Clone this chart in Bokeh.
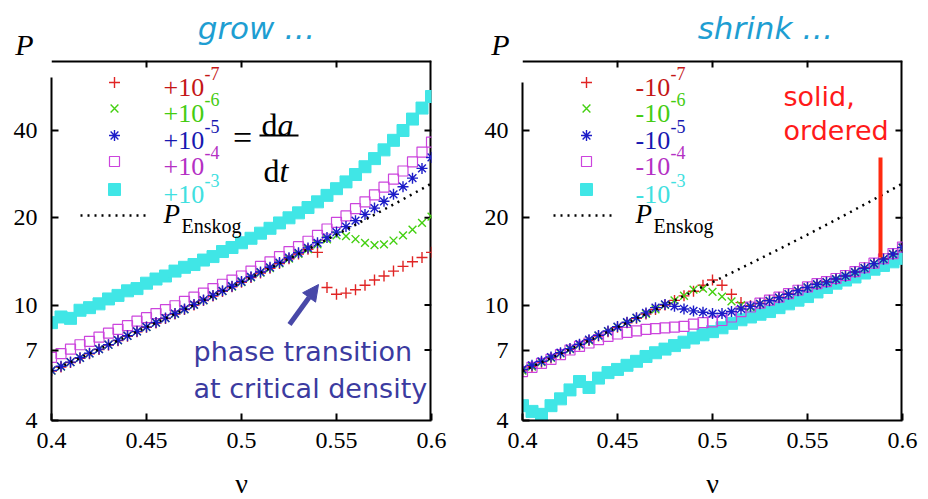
from bokeh.plotting import figure
from bokeh.models import (Range1d, FixedTicker, Label, Arrow,
                          NormalHead, CustomJSTickFormatter)
from bokeh.layouts import row, column
from bokeh.embed import file_html
from bokeh.resources import INLINE

# ---------------- data ----------------
NU = [0.400, 0.405, 0.410, 0.415, 0.420, 0.425, 0.430, 0.435, 0.440, 0.445,
      0.450, 0.455, 0.460, 0.465, 0.470, 0.475, 0.480, 0.485, 0.490, 0.495,
      0.500, 0.505, 0.510, 0.515, 0.520, 0.525, 0.530, 0.535, 0.540, 0.545,
      0.550, 0.555, 0.560, 0.565, 0.570, 0.575, 0.580, 0.585, 0.590, 0.595, 0.600]

P_ENSKOG = [5.93, 6.13, 6.35, 6.57, 6.80, 7.04, 7.29, 7.55, 7.82, 8.10,
            8.39, 8.69, 9.00, 9.32, 9.66, 10.01, 10.38, 10.76, 11.16, 11.57,
            12.00, 12.45, 12.92, 13.41, 13.92, 14.45, 15.01, 15.59, 16.20, 16.84,
            17.50, 18.20, 18.93, 19.70, 20.50, 21.35, 22.23, 23.16, 24.14, 25.17, 26.25]

# grow: da/dt = +1e-7 ... +1e-3
GROW_E7 = [5.92, 6.12, 6.34, 6.56, 6.79, 7.03, 7.28, 7.54, 7.81, 8.09,
           8.38, 8.68, 8.99, 9.31, 9.65, 10.00, 10.37, 10.75, 11.15, 11.56,
           11.99, 12.44, 12.91, 13.40, 13.91, 14.44, 15.00, 15.58, 15.2, 11.5,
           10.9, 11.0, 11.3, 11.7, 12.2, 12.6, 13.1, 13.6, 14.1, 14.6, 15.2]
GROW_E6 = [5.94, 6.14, 6.36, 6.58, 6.81, 7.05, 7.30, 7.56, 7.83, 8.11,
           8.40, 8.70, 9.01, 9.33, 9.67, 10.02, 10.39, 10.77, 11.17, 11.58,
           12.01, 12.46, 12.93, 13.42, 13.93, 14.46, 15.02, 15.60, 16.21, 16.85,
           17.4, 17.3, 16.9, 16.4, 16.1, 16.2, 16.7, 17.4, 18.2, 19.2, 20.2]
GROW_E5 = [5.95, 6.15, 6.36, 6.58, 6.82, 7.05, 7.30, 7.57, 7.84, 8.12,
           8.41, 8.71, 9.02, 9.35, 9.69, 10.04, 10.41, 10.80, 11.20, 11.62,
           12.06, 12.52, 13.00, 13.50, 14.02, 14.57, 15.15, 15.75, 16.40, 17.10,
           17.85, 18.65, 19.55, 20.55, 21.6, 22.8, 24.1, 25.6, 27.4, 29.6, 32.3]
GROW_E4 = [6.6, 6.8, 7.05, 7.3, 7.5, 7.75, 8.0, 8.25, 8.5, 8.8,
           9.05, 9.35, 9.65, 9.95, 10.3, 10.65, 11.0, 11.4, 11.8, 12.2,
           12.6, 13.1, 13.6, 14.1, 14.7, 15.3, 15.9, 16.6, 17.4, 18.3,
           19.3, 20.3, 21.5, 22.7, 24.0, 25.5, 27.2, 29.0, 31.2, 33.7, 36.5]
GROW_E3 = [8.7, 9.1, 9.0, 9.6, 9.8, 10.1, 10.5, 10.8, 11.2, 11.4,
           11.9, 12.3, 12.6, 13.1, 13.5, 13.8, 14.3, 14.7, 15.3, 15.8,
           16.4, 17.0, 17.7, 18.4, 19.2, 20.0, 20.8, 21.7, 22.7, 23.9,
           25.2, 26.6, 28.2, 30.0, 32.0, 34.3, 37.0, 40.0, 43.8, 47.8, 52.4]

# shrink: da/dt = -1e-7 ... -1e-3
SHRINK_E7 = [5.93, 6.13, 6.35, 6.57, 6.80, 7.04, 7.29, 7.55, 7.82, 8.10,
             8.39, 8.69, 9.00, 9.32, 9.66, 10.01, 10.38, 10.76, 11.16, 11.7,
             12.2, 11.7, 10.9, 10.2, 9.95, 10.15, 10.4, 10.65, 10.95, 11.25,
             11.5, 11.8, 12.05, 12.3, 12.6, 13.0, 13.45, 13.9, 14.45, 15.0, 15.8]
SHRINK_E6 = [5.94, 6.14, 6.36, 6.58, 6.81, 7.05, 7.30, 7.56, 7.83, 8.11,
             8.40, 8.70, 9.01, 9.33, 9.67, 10.02, 10.39, 10.77, 11.3, 11.4,
             11.1, 10.7, 10.3, 10.0, 9.85, 10.1, 10.35, 10.6, 10.9, 11.2,
             11.5, 11.75, 12.0, 12.3, 12.6, 13.0, 13.4, 13.9, 14.4, 15.0, 15.75]
SHRINK_E5 = [6.0, 6.2, 6.4, 6.62, 6.85, 7.08, 7.33, 7.6, 7.86, 8.14,
             8.43, 8.73, 9.05, 9.4, 9.8, 10.05, 9.9, 9.7, 9.55, 9.45,
             9.35, 9.35, 9.5, 9.7, 9.9, 10.1, 10.35, 10.6, 10.9, 11.2,
             11.5, 11.8, 12.0, 12.3, 12.6, 13.0, 13.4, 13.9, 14.4, 15.0, 15.8]
SHRINK_E4 = [5.9, 6.1, 6.3, 6.5, 6.75, 7.0, 7.2, 7.4, 7.6, 7.8,
             7.95, 8.05, 8.15, 8.25, 8.3, 8.35, 8.4, 8.45, 8.6, 8.7,
             8.75, 8.85, 9.1, 9.5, 9.85, 10.15, 10.4, 10.65, 10.95, 11.25,
             11.55, 11.85, 12.05, 12.35, 12.65, 13.05, 13.45, 13.95, 14.45, 15.05, 15.85]
SHRINK_E3 = [4.5, 4.3, 4.2, 4.5, 4.75, 5.1, 5.45, 5.2, 5.6, 5.85,
             6.0, 6.2, 6.4, 6.65, 6.85, 7.05, 7.25, 7.45, 7.7, 7.9,
             8.1, 8.35, 8.65, 8.9, 9.1, 9.3, 9.5, 9.8, 10.1, 10.4,
             10.7, 11.1, 11.5, 11.9, 12.2, 12.5, 12.9, 13.3, 13.7, 14.1, 14.5]

X_TICKS = [0.4, 0.45, 0.5, 0.55, 0.6]
Y_TICKS = [4, 7, 10, 20, 40]
EXPONENTS = ["-7", "-6", "-5", "-4", "-3"]

# ---------------- styles ----------------
MARK_COLORS = ["#E02424", "#44D011", "#1C1CC8", "#CC44DD", "#40E6E6"]
TEXT_COLORS = ["#C41616", "#44CC11", "#1818B0", "#B430C4", "#40E0E0"]
MARKERS = ["cross", "x", "asterisk", "square", "square"]
TITLE_COLOR = "#1E9ED2"
SERIF = "Liberation Serif"
SANS = "DejaVu Sans"

HEADER_H = 60          # strip above the two frames
FOOTER_H = 34          # strip below the tick labels
BOTTOM_B = 45          # room for the x tick labels
FRAME_W, FRAME_H = 380, 360
Y_MIN = 4.0
Y_MAX = 4.0 * 10 ** (FRAME_H / 290.0)


def strip(height):
    s = figure(width=928, height=height, x_range=Range1d(0, 928), y_range=Range1d(height, 0),
               output_backend="svg", toolbar_location=None,
               x_axis_location=None, y_axis_location=None,
               min_border_left=0, min_border_right=0, min_border_top=0, min_border_bottom=0)
    s.outline_line_color = None
    s.grid.visible = False
    return s


def make_panel(border_left, border_right):
    p = figure(width=border_left + FRAME_W + border_right, height=FRAME_H + BOTTOM_B,
               x_range=Range1d(0.4, 0.6), y_range=Range1d(Y_MIN, Y_MAX),
               y_axis_type="log", output_backend="svg", toolbar_location=None,
               min_border_left=border_left, min_border_right=border_right,
               min_border_top=0, min_border_bottom=BOTTOM_B)
    p.outline_line_color = None
    p.grid.visible = False
    fmt = CustomJSTickFormatter(code="return String(tick)")
    for ax in p.xaxis + p.yaxis:
        ax.major_tick_in = 7
        ax.major_tick_out = 0
        ax.minor_tick_line_color = None
        ax.axis_line_width = 2
        ax.major_tick_line_width = 2
        ax.major_label_text_font = SERIF
        ax.major_label_text_font_size = "24px"
        ax.major_label_text_color = "black"
        ax.formatter = fmt
    p.xaxis.ticker = FixedTicker(ticks=X_TICKS)
    p.yaxis.ticker = FixedTicker(ticks=Y_TICKS)
    p.xaxis.major_label_standoff = 12
    p.yaxis.major_label_standoff = 14
    # top and right border of the box, with inward ticks
    p.line([0.4, 0.6], [Y_MAX, Y_MAX], line_color="black", line_width=4)
    p.line([0.6, 0.6], [Y_MIN, Y_MAX], line_color="black", line_width=4)
    y_tick_end = 4.0 * 10 ** ((FRAME_H - 7) / 290.0)
    p.segment(x0=X_TICKS[1:4], y0=[Y_MAX] * 3, x1=X_TICKS[1:4], y1=[y_tick_end] * 3,
              line_color="black", line_width=2)
    x_tick_end = 0.6 - 7 / 1900.0
    p.segment(x0=[0.6] * 4, y0=Y_TICKS[1:], x1=[x_tick_end] * 4, y1=Y_TICKS[1:],
              line_color="black", line_width=2)
    return p


def data_xy(px, py, x0):
    """absolute page pixel -> data coordinates of a panel whose frame starts at x0"""
    return 0.4 + (px - x0) / 1900.0, 4.0 * 10 ** ((420.0 - py) / 290.0)


def label(p, x0, px, py, text, size, color="black", font=SERIF, style="normal",
          align="left", baseline="middle"):
    x, y = data_xy(px, py, x0)
    p.add_layout(Label(x=x, y=y, text=text, text_font=font, text_font_size=size,
                       text_color=color, text_font_style=style, text_align=align,
                       text_baseline=baseline))


def draw_marker(p, xs, ys, i):
    if i == 3:
        p.scatter(xs, ys, marker="square", size=10, fill_color=None,
                  line_color=MARK_COLORS[i], line_width=1.2)
    elif i == 4:
        p.scatter(xs, ys, marker="square", size=12, fill_color=MARK_COLORS[i],
                  line_color=MARK_COLORS[i])
    else:
        p.scatter(xs, ys, marker=MARKERS[i], size=11, line_color=MARK_COLORS[i],
                  line_width=1.4)


def draw_series(p, series, order):
    for i in order:
        draw_marker(p, NU, series[i], i)
    p.line(NU, P_ENSKOG, line_color="black", line_width=2.5, line_dash="2 5")


def legend(p, x0, sign, mark_px, text_px, exp_px, enskog_px):
    rows = [82, 108, 135, 161, 189]
    for i, py in enumerate(rows):
        x, y = data_xy(mark_px, py, x0)
        draw_marker(p, [x], [y], i)
        label(p, x0, text_px, py + 5, sign + "10", "26px", TEXT_COLORS[i])
        label(p, x0, exp_px, py - 9, EXPONENTS[i], "18px", TEXT_COLORS[i])
    xa, ya = data_xy(enskog_px[0], 215, x0)
    xb, yb = data_xy(enskog_px[1], 215, x0)
    p.line([xa, xb], [ya, yb], line_color="black", line_width=2.5, line_dash="2 5")
    label(p, x0, text_px, 213, "P", "27px", style="italic")
    label(p, x0, text_px + 18, 225, "Enskog", "20px")


# ---------------- header strip (titles and P labels) ----------------
header = strip(HEADER_H)
for px, txt in [(256, "grow …"), (765, "shrink …")]:
    header.add_layout(Label(x=px, y=27, text=txt, text_font=SANS, text_font_size="31px",
                            text_font_style="italic", text_color=TITLE_COLOR,
                            text_align="center", text_baseline="middle"))
for px in [24, 500]:
    header.add_layout(Label(x=px, y=44, text="P", text_font=SERIF, text_font_size="30px",
                            text_font_style="italic", text_color="black",
                            text_align="center", text_baseline="middle"))

# ---------------- footer strip (axis labels) ----------------
footer = strip(FOOTER_H)
for px in [241, 712]:
    footer.add_layout(Label(x=px, y=18, text="ν", text_font=SERIF, text_font_size="28px",
                            text_color="black", text_align="center", text_baseline="middle"))

# ---------------- left panel: grow ----------------
L0 = 51
left = make_panel(51, 33)
left.yaxis[0].bounds = (Y_MIN, data_xy(0, 77, L0)[1])
draw_series(left, [GROW_E7, GROW_E6, GROW_E5, GROW_E4, GROW_E3], [4, 3, 0, 1, 2])
legend(left, L0, "+", 114, 163, 204, (80, 148))
label(left, L0, 242, 137, "=", "34px", align="center")
label(left, L0, 261, 124, "d", "32px", baseline="alphabetic")
label(left, L0, 277, 124, "a", "32px", style="italic", baseline="alphabetic")
label(left, L0, 263, 170, "d", "32px", baseline="alphabetic")
label(left, L0, 279, 170, "t", "32px", style="italic", baseline="alphabetic")
fx0, fy0 = data_xy(259, 135, L0)
fx1, fy1 = data_xy(298, 135, L0)
left.line([fx0, fx1], [fy0, fy1], line_color="black", line_width=2)
label(left, L0, 193, 351, "phase transition", "27px", "#3B3BA0", SANS)
label(left, L0, 193, 388, "at critical density", "27px", "#3B3BA0", SANS)
ax0, ay0 = data_xy(289, 324, L0)
ax1, ay1 = data_xy(318, 284, L0)
left.add_layout(Arrow(end=NormalHead(size=16, fill_color="#4848A8", line_color="#4848A8"),
                      x_start=ax0, y_start=ay0, x_end=ax1, y_end=ay1,
                      line_color="#4848A8", line_width=5))

# ---------------- right panel: shrink ----------------
R0 = 58
right = make_panel(58, 26)
right.yaxis[0].bounds = (Y_MIN, data_xy(0, 82, R0)[1])
draw_series(right, [SHRINK_E7, SHRINK_E6, SHRINK_E5, SHRINK_E4, SHRINK_E3], [4, 0, 1, 3, 2])
legend(right, R0, "-", 122, 171, 206, (89, 152))
label(right, R0, 319, 96, "solid,", "27px", "#FF1A1A", SANS)
label(right, R0, 319, 130, "ordered", "27px", "#FF1A1A", SANS)
sx0, sy0 = data_xy(416, 157, R0)
sx1, sy1 = data_xy(416, 257, R0)
right.line([sx0, sx1], [sy0, sy1], line_color="#FF2A10", line_width=4)

layout = column(header, row(left, right), footer)
open("out.html", "w").write(file_html(layout, INLINE))
